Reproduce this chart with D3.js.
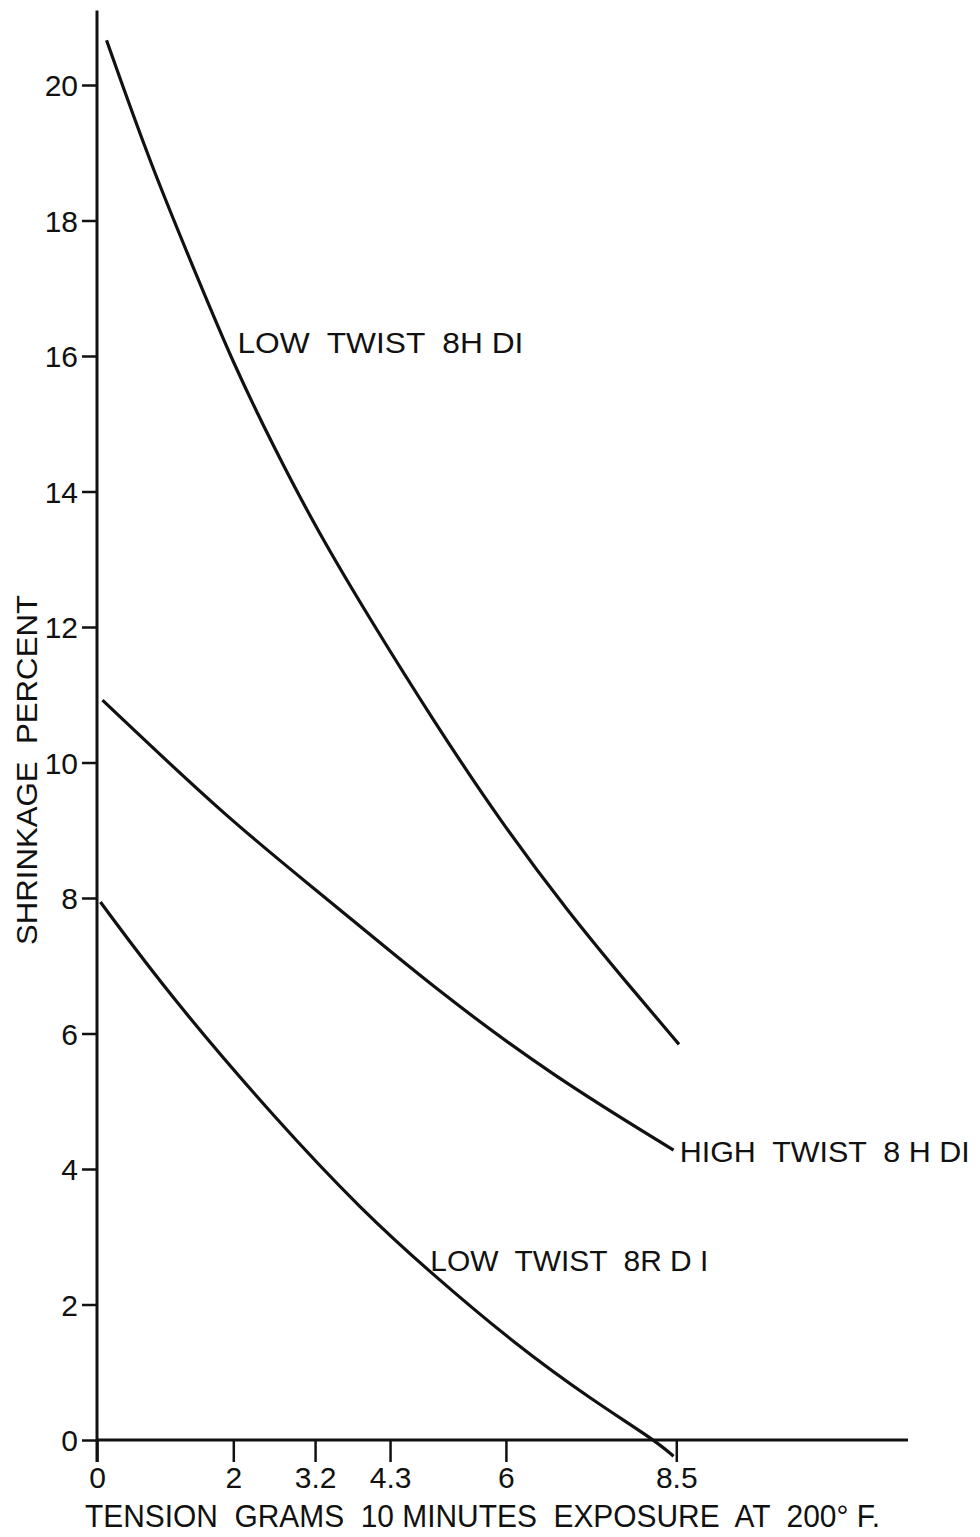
<!DOCTYPE html>
<html>
<head>
<meta charset="utf-8">
<script src="https://cdn.jsdelivr.net/npm/d3@7"></script>
<style>
  body { margin: 0; background: #fff; }
  svg { display: block; }
  text { font-family: "Liberation Sans", "DejaVu Sans", sans-serif; fill: #111; white-space: pre; }
</style>
</head>
<body>
<script>
// data (tension g, shrinkage %)
const lowTwist8H = [[0.14, 20.66], [0.78, 18.84], [1.51, 17.07], [2.0, 15.89], [2.59, 14.66],
                    [3.23, 13.43], [3.96, 12.19], [4.94, 10.61], [5.92, 9.13], [6.9, 7.81],
                    [7.88, 6.62], [8.54, 5.84]]
const highTwist8H = [[0.08, 10.92], [1.94, 9.15], [3.34, 8.02], [5.03, 6.6], [6.71, 5.36],
                     [8.46, 4.28]]
const lowTwist8R = [[0.05, 7.94], [1.09, 6.53], [2.67, 4.68], [3.9, 3.38], [4.86, 2.5],
                    [6.15, 1.4], [7.28, 0.58], [8.18, 0.0], [8.46, -0.24]]

const xTicks = [0, 2, 3.2, 4.3, 6, 8.5]
const yTicks = [0, 2, 4, 6, 8, 10, 12, 14, 16, 18, 20]

const curveLabels = [
  { text: 'LOW  TWIST  8H DI', at: [2.06, 16.05], len: 286 },
  { text: 'HIGH  TWIST  8 H DI', at: [8.55, 4.1], len: 290 },
  { text: 'LOW  TWIST  8R D I', at: [4.89, 2.5], len: 278 }
]

const W = 980, H = 1537

const svg = d3.select('body').append('svg')
  .attr('width', W).attr('height', H)

const x = d3.scaleLinear().domain([0, 11.9]).range([97, 908])
const y = d3.scaleLinear().domain([0, 20]).range([1440, 85])

// y axis
const yAxis = svg.append('g')
  .attr('transform', 'translate(' + x(0) + ',0)')
  .call(d3.axisLeft(y).tickValues(yTicks).tickSize(15).tickPadding(4).tickFormat(d3.format('d')))
yAxis.select('.domain').remove()
yAxis.selectAll('line').attr('stroke', '#111').attr('stroke-width', 2.5)
yAxis.selectAll('text').attr('font-size', 30).attr('dy', '0.36em')
  .style('font-family', '"Liberation Sans", sans-serif')

svg.append('line')
  .attr('x1', x(0)).attr('x2', x(0))
  .attr('y1', y(21.1)).attr('y2', y(0) + 22)
  .attr('stroke', '#111').attr('stroke-width', 3)

// x axis
const xAxis = svg.append('g')
  .attr('transform', 'translate(0,' + y(0) + ')')
  .call(d3.axisBottom(x).tickValues(xTicks).tickSize(22).tickPadding(4)
    .tickFormat(d => String(d)))
xAxis.select('.domain').remove()
xAxis.selectAll('line').attr('stroke', '#111').attr('stroke-width', 2.5)
xAxis.selectAll('text').attr('font-size', 30).attr('dy', '0.72em')
  .style('font-family', '"Liberation Sans", sans-serif')

svg.append('line')
  .attr('x1', x(0)).attr('x2', x(11.9))
  .attr('y1', y(0)).attr('y2', y(0))
  .attr('stroke', '#111').attr('stroke-width', 3)

// curves
const line = d3.line()
  .x(d => x(d[0])).y(d => y(d[1]))
  .curve(d3.curveBasis)

;[lowTwist8H, highTwist8H, lowTwist8R].forEach(series => {
  svg.append('path')
    .datum(series)
    .attr('d', line)
    .attr('fill', 'none')
    .attr('stroke', '#111')
    .attr('stroke-width', 3.2)
})

// curve labels
curveLabels.forEach(l => {
  svg.append('text')
    .attr('x', x(l.at[0])).attr('y', y(l.at[1]))
    .attr('font-size', 30)
    .attr('textLength', l.len)
    .attr('lengthAdjust', 'spacingAndGlyphs')
    .text(l.text)
})

// axis titles
svg.append('text')
  .attr('x', 85).attr('y', 1527)
  .attr('font-size', 32)
  .attr('textLength', 795)
  .attr('lengthAdjust', 'spacingAndGlyphs')
  .text('TENSION  GRAMS  10 MINUTES  EXPOSURE  AT  200° F.')

svg.append('text')
  .attr('transform', 'translate(37,945) rotate(-90)')
  .attr('font-size', 30)
  .attr('textLength', 350)
  .attr('lengthAdjust', 'spacingAndGlyphs')
  .text('SHRINKAGE  PERCENT')
</script>
</body>
</html>
